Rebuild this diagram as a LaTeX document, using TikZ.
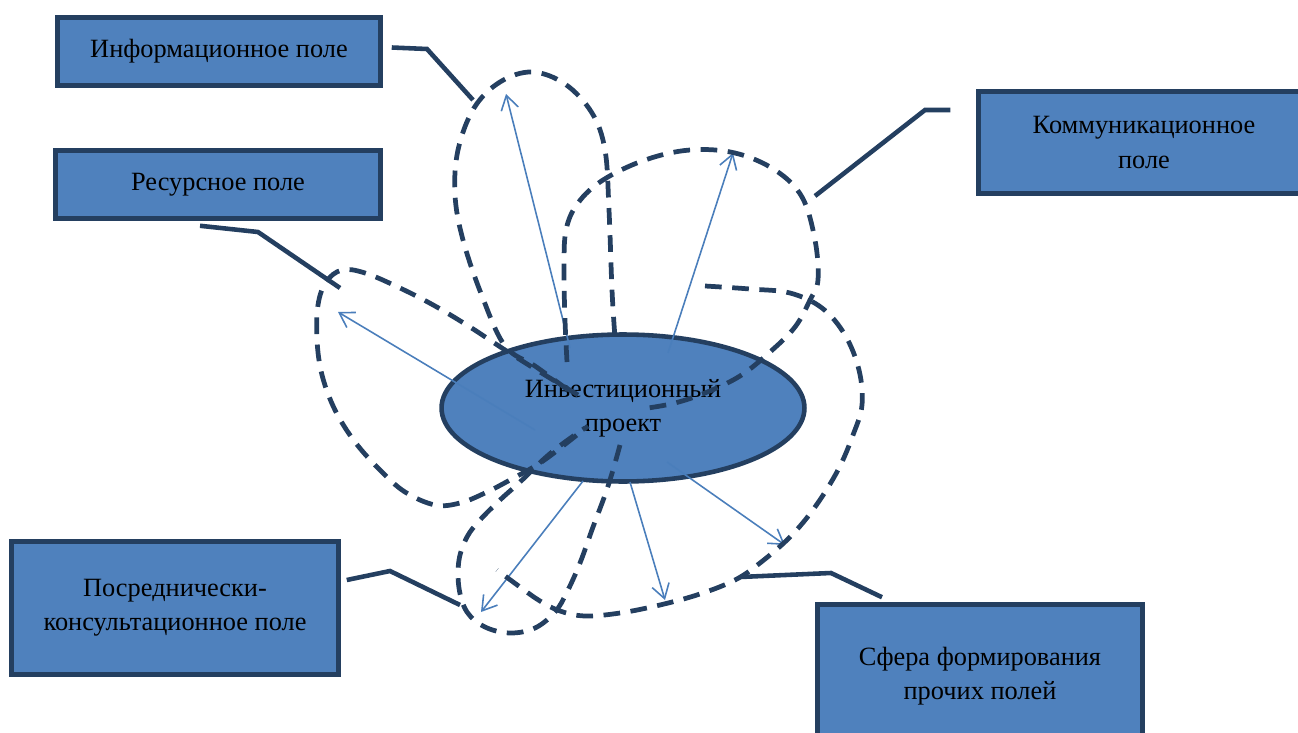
\documentclass[tikz,border=0pt]{standalone}
\usepackage{fontspec}
\setmainfont{Liberation Serif}
\usetikzlibrary{shapes.geometric,arrows.meta,calc}
\definecolor{fieldfill}{HTML}{4F81BD}
\definecolor{fieldline}{HTML}{243F60}
\definecolor{raycol}{HTML}{4A7EBB}

\begin{document}
\begin{tikzpicture}[x=0.02cm,y=-0.02cm,
    field/.style={draw=fieldline,line width=2.6pt,fill=fieldfill,align=center,
      inner sep=0pt,font=\fontsize{15}{19.5}\selectfont},
    link/.style={draw=fieldline,line width=2.6pt},
    lobe/.style={draw=fieldline,line width=2.7pt,dash pattern=on 9.5pt off 6pt},
    ray/.style={draw=raycol,line width=0.9pt,-{Straight Barb[length=8pt,width=10pt]}}]
  \useasboundingbox (0,0) rectangle (1298,733);

  % boxes of the fields
  \node[field,minimum width=6.46cm,minimum height=1.36cm] (info) at (219,51.5) {Информационное поле};
  \node[field,minimum width=6.50cm,minimum height=1.36cm] (res) at (218,184.5) {Ресурсное поле};
  \node[field,minimum width=6.62cm,minimum height=2.04cm] (comm) at (1144,142.5) {Коммуникационное\\поле};
  \node[field,minimum width=6.54cm,minimum height=2.66cm] (posr) at (175,608) {Посреднически-\\консультационное поле};
  \node[field,minimum width=6.50cm,minimum height=2.86cm] (sfera) at (980,676) {Сфера формирования\\прочих полей};

  % free ends of the callouts
  \coordinate (infoEnd) at (473,100);
  \coordinate (resEnd) at (340,288);
  \coordinate (commEnd) at (815,196);
  \coordinate (posrEnd) at (460,605);
  \coordinate (sferaEnd) at (740,577);

  \draw[link] ($(info.east)+(9,-4)$) -- (427,49) -- (infoEnd);
  \draw[link] ($(res.south)+(-18,5)$) -- (258,232) -- (resEnd);
  \draw[link] ($(comm.west)+(-26,-32.5)$) -- (925,110) -- (commEnd);
  \draw[link] ($(posr.east)+(6,-28)$) -- (390,571) -- (posrEnd);
  \draw[link] ($(sfera.north)+(-98,-5)$) -- (831,573) -- (sferaEnd);

  % the project
  \node[field,ellipse,minimum width=7.26cm,minimum height=2.94cm] (proj) at (623,408) {Инвестиционный\\проект};

  % arrows out of the project
  \coordinate (infoTip) at (506,94);
  \coordinate (commTip) at (733,153);
  \coordinate (resTip) at (338,312);
  \coordinate (posrTip) at (481,612);
  \coordinate (sferaTipA) at (665,600);
  \coordinate (sferaTipB) at (785,545);

  \draw[ray] ($(proj)+(-53,-60)$) -- (infoTip);
  \draw[ray] ($(proj)+(45,-55)$) -- (commTip);
  \draw[ray] ($(proj)+(-88,22)$) -- (resTip);
  \draw[ray] ($(proj)+(-40,73)$) -- (posrTip);
  \draw[ray] ($(proj)+(7,74)$) -- (sferaTipA);
  \draw[ray] ($(proj)+(44,54)$) -- (sferaTipB);

  % dashed lobes of the fields
  \draw[lobe] plot[smooth,tension=0.6] coordinates {(568,390) (535,366) (505,346) (482,296)
    (463,240) (455,195) (458,150) (474,108) (500,82) (532,72) (565,84) (592,113) (605,150)
    (609,210) (612,290) (615,338)};
  \draw[lobe] plot[smooth,tension=0.6] coordinates {(578,395) (540,372) (505,350) (470,327)
    (435,306) (400,288) (365,273) (342,270) (326,282) (318,305) (317,340) (322,375) (335,410)
    (355,442) (380,470) (405,492) (435,505) (460,503) (485,493) (510,480) (540,463) (568,442)
    (588,426)};
  \draw[lobe] plot[smooth,tension=0.6] coordinates {(567,362) (565,320) (564,270) (566,230)
    (578,203) (603,180) (645,160) (690,150) (735,153) (775,170) (802,197) (815,240) (818,280)
    (810,300) (795,327) (770,352) (740,376) (705,393) (675,403) (648,408)};
  \draw[lobe] plot[smooth,tension=0.6] coordinates {(705,286) (750,289) (790,293) (822,308)
    (845,335) (859,370) (862,405) (853,435) (838,470) (815,507) (790,537) (760,563) (735,580)
    (700,594) (660,605) (620,613) (585,616) (560,611) (540,601) (520,587) (497,570)};
  \draw[lobe] plot[smooth,tension=0.6] coordinates {(620,445) (613,470) (605,495) (593,527)
    (580,563) (567,592) (555,612) (535,628) (510,633) (485,627) (467,612) (459,588) (459,560)
    (467,537) (480,520) (500,500) (520,482) (545,458) (565,442) (585,428)};
\end{tikzpicture}
\end{document}
